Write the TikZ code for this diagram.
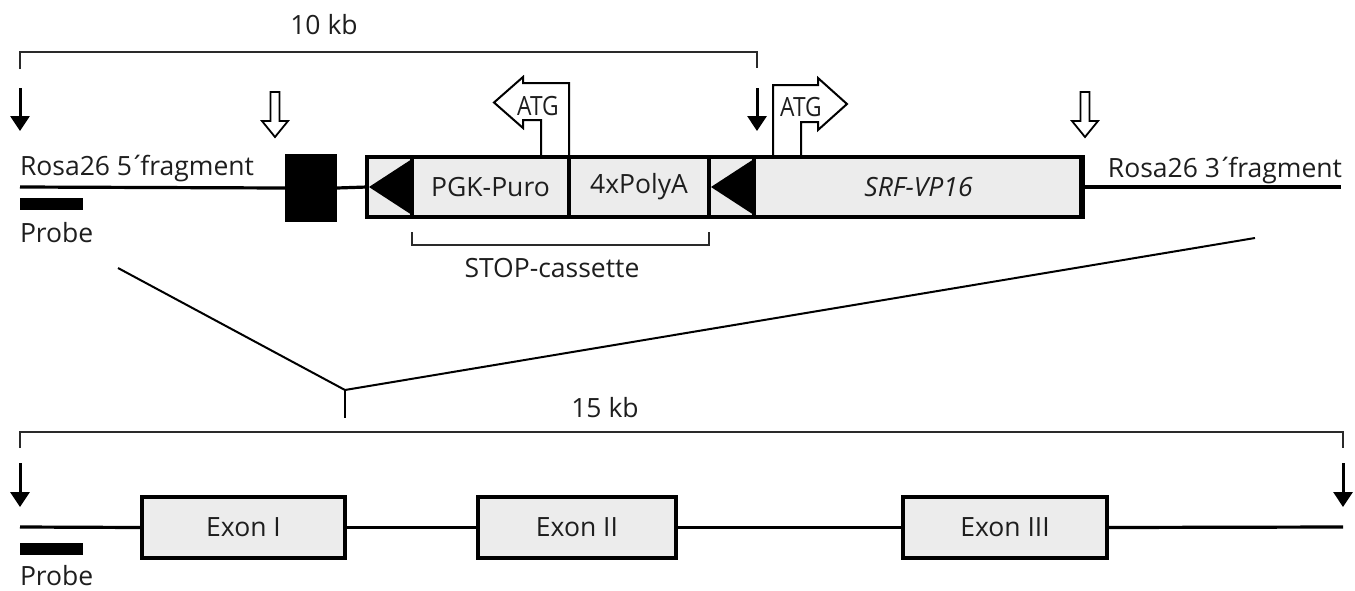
\documentclass[tikz,border=0pt]{standalone}
\usepackage{fontspec}
\setmainfont{Open Sans}
\usetikzlibrary{arrows.meta}
\definecolor{txt}{HTML}{1E1E1E}
\definecolor{boxgray}{HTML}{ECECEC}
\definecolor{brk}{HTML}{2A2A2A}
\newcommand{\primeacc}{\kern-2.5pt´\kern-4.5pt}
\begin{document}
\begin{tikzpicture}[x=1pt,y=-1pt,
  every node/.style={font=\fontsize{26.5}{29}\selectfont, text=txt, inner sep=0pt, outer sep=0pt},
  dna/.style={line width=3.2pt},
  gbox/.style={draw, line width=4pt, fill=boxgray, minimum height=60pt},
  bracketline/.style={line width=2pt, draw=brk},
  cutarrow/.style={line width=3pt, -{Triangle[width=19pt,length=15pt]}},
  atgline/.style={line width=2pt, line join=miter},
  crossline/.style={line width=2pt},
  hollowarrow/.pic={\draw[line width=1.8pt, fill=white, line join=miter]
     (-4.5,0) -- (4.5,0) -- (4.5,29) -- (13,29) -- (0,45) -- (-13,29) -- (-4.5,29) -- cycle;}
]
\useasboundingbox (0,0) rectangle (1355,590);

% ---------- top construct ----------
\coordinate (L5) at (20,187);
\coordinate (R3) at (1341,187);
\node[fill=black, minimum width=52pt, minimum height=68pt] (blk) at (311,188) {};
\node[gbox, minimum width=714pt] (cas) at (724,187) {};
\node[gbox, minimum width=157pt] (pgk) at (490.5,187) {PGK-Puro};
\node[gbox, minimum width=140pt] (polya) at (639,187) {4xPolyA};
\node[gbox, minimum width=329pt] (srf) at (918.5,187) {\itshape SRF-VP16};
\draw[line width=4pt] (cas.north west) rectangle (cas.south east);
\fill (369,187) -- (412,159) -- (412,215) -- cycle;
\fill (711,187) -- (754,159) -- (754,215) -- cycle;

\draw[dna] (L5) -- (blk.west);
\draw[dna] (blk.east) -- (cas.west);
\draw[dna] (cas.east) -- (R3);

\node[anchor=base west] (t5) at (20,175) {Rosa26 5\primeacc fragment};
\node[anchor=base east] (t3) at (1342,177) {Rosa26 3\primeacc fragment};

\node[fill=black, minimum width=63pt, minimum height=12pt] (probe1) at (51.5,204) {};
\node[anchor=base west] (pr1) at (20,242) {Probe};

% bracket 10 kb
\coordinate (ba1) at (20,69);
\coordinate (ba2) at (20,52);
\coordinate (ba3) at (757,52);
\coordinate (ba4) at (757,68);
\draw[bracketline] (ba1) -- (ba2) -- (ba3) -- (ba4);
\node (kb10) at (324,25) {10 kb};

% cut arrows
\coordinate (ca1) at (20,88);  \coordinate (ca2) at (20,131);
\coordinate (cb1) at (757,88); \coordinate (cb2) at (757,131);
\draw[cutarrow] (ca1) -- (ca2);
\draw[cutarrow] (cb1) -- (cb2);
\pic at (275,92) {hollowarrow};
\pic at (1085,92) {hollowarrow};

% ATG arrows
\draw[atgline] (569,155) -- (569,83) -- (523,83) -- (523,77) -- (494,102.5) -- (523,128) -- (523,120) -- (541,120) -- (541,155);
\node[xscale=0.86] (atg1) at (538,106) {ATG};
\draw[atgline] (773,155) -- (773,85) -- (818,85) -- (818,78) -- (847,104) -- (818,130) -- (818,122) -- (801,122) -- (801,155);
\node[xscale=0.86] (atg2) at (801,107) {ATG};

% STOP cassette bracket
\coordinate (sa1) at (412,232); \coordinate (sa2) at (412,245);
\coordinate (sa3) at (709,245); \coordinate (sa4) at (709,232);
\draw[bracketline] (sa1) -- (sa2) -- (sa3) -- (sa4);
\node (stop) at (552,268) {STOP-cassette};

% zoom lines
\coordinate (z1) at (118,268);
\coordinate (z2) at (1255,238);
\coordinate (zm) at (345,390);
\coordinate (zb) at (345,418);
\draw[crossline] (z1) -- (zm) -- (z2);
\draw[crossline] (zm) -- (zb);

% ---------- bottom locus ----------
\coordinate (bb1) at (20,448); \coordinate (bb2) at (20,432);
\coordinate (bb3) at (1343,432); \coordinate (bb4) at (1343,448);
\draw[bracketline] (bb1) -- (bb2) -- (bb3) -- (bb4);
\node (kb15) at (605,408) {15 kb};

\coordinate (da1) at (20,463);   \coordinate (da2) at (20,507);
\coordinate (db1) at (1343,463); \coordinate (db2) at (1343,507);
\draw[cutarrow] (da1) -- (da2);
\draw[cutarrow] (db1) -- (db2);

\coordinate (gL) at (20,527);
\coordinate (gR) at (1343,527);
\node[gbox, minimum width=203pt, minimum height=61pt] (ex1) at (243.5,527.5) {Exon I};
\node[gbox, minimum width=198pt, minimum height=61pt] (ex2) at (577,527.5) {Exon II};
\node[gbox, minimum width=204pt, minimum height=61pt] (ex3) at (1005,527.5) {Exon III};
\draw[dna] (gL) -- (ex1.west);
\draw[dna] (ex1.east) -- (ex2.west);
\draw[dna] (ex2.east) -- (ex3.west);
\draw[dna] (ex3.east) -- (gR);

\node[fill=black, minimum width=63pt, minimum height=12pt] (probe2) at (51.5,549) {};
\node[anchor=base west] (pr2) at (20,585) {Probe};
\end{tikzpicture}
\end{document}
